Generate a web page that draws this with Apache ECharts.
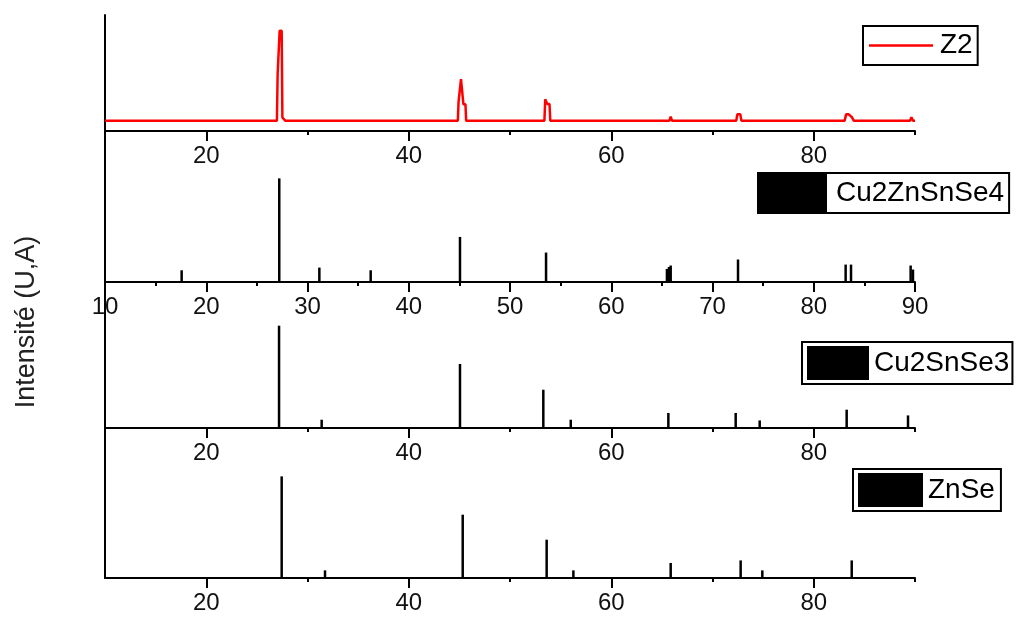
<!DOCTYPE html>
<html>
<head>
<meta charset="utf-8">
<script src="https://cdn.jsdelivr.net/npm/echarts@6/dist/echarts.min.js"></script>
<style>
  html, body { margin: 0; padding: 0; background: #fff; }
  #chart { width: 1020px; height: 619px; }
</style>
</head>
<body>
<div id="chart"></div>
<script>
// 2θ range and tick positions
const xRange = [10, 90];
const majorTicks = [20, 40, 60, 80];
const minorTicks = [30, 50, 70, 90];

// Z2 measured pattern: [2θ, intensity]
const z2Pattern = [
  [10, 10.3], [26.98, 10.3], [27.05, 56.8], [27.2, 56.8], [27.25, 100], [27.45, 100],
  [27.52, 13.5], [27.7, 13.5], [27.8, 10.3],
  [44.85, 10.3], [44.92, 29.2], [45.1, 29.2], [45.16, 51.8], [45.35, 51.8],
  [45.4, 26.6], [45.6, 26.6], [45.67, 10.3],
  [53.4, 10.3], [53.48, 31.6], [53.62, 31.6], [53.68, 26.9], [53.9, 26.9], [53.98, 10.3],
  [65.75, 10.3], [65.87, 14.3], [66.0, 10.3],
  [72.35, 10.3], [72.45, 16.6], [72.75, 16.6], [72.85, 10.3],
  [83.05, 10.3], [83.2, 16.6], [83.45, 16.6], [83.75, 14.0], [83.95, 10.3],
  [89.5, 10.3], [89.65, 13.7], [89.8, 10.3], [90, 10.3]
];

// Reference stick patterns: [2θ, relative intensity]
const cztsePeaks = [
  [17.57, 11.3], [27.21, 100], [31.17, 13.9], [36.24, 11.3], [45.06, 43.5],
  [53.56, 28.4], [65.5, 12.6], [65.7, 14.5], [65.87, 15.9], [72.52, 21.7],
  [83.15, 16.8], [83.68, 16.8], [89.57, 15.9], [89.8, 12.0]
];
const ctsePeaks = [
  [27.19, 100], [31.4, 8.1], [45.06, 62.6], [53.29, 37.4], [56.0, 8.1],
  [65.64, 14.7], [72.29, 14.7], [74.66, 7.4], [83.25, 17.9], [89.31, 12.3]
];
const znsePeaks = [
  [27.45, 100], [31.73, 7.5], [45.33, 62.3], [53.62, 37.7], [56.26, 7.5],
  [65.87, 14.8], [72.78, 17.3], [74.92, 7.5], [83.75, 17.3]
];

const seriesNames = ['Z2', 'Cu2ZnSnSe4', 'Cu2SnSe3', 'ZnSe'];
const yTitle = 'Intensité (U,A)';

const FONT = '"Liberation Sans", Arial, sans-serif';
const INK = '#000';

// stacked panels: [top, height] and y-axis ceilings
const panels = [
  { top: 15, height: 116, yMax: 115.6 },
  { top: 131, height: 151, yMax: 145.7 },
  { top: 282, height: 146, yMax: 142.7 },
  { top: 428, height: 150, yMax: 147.6 }
];

const grids = panels.map(p => ({ left: 105, right: 105, top: p.top, height: p.height }));

const labelStyle = { color: '#111', fontFamily: FONT, fontSize: 24, margin: 13 };

function mainAxis(gi, values) {
  return {
    type: 'value', gridIndex: gi, min: xRange[0], max: xRange[1], position: 'bottom',
    axisLine: { show: true, onZero: false, lineStyle: { color: INK, width: 2 } },
    axisTick: { show: true, length: 10, customValues: values, lineStyle: { color: INK, width: 2 } },
    axisLabel: Object.assign({ customValues: values }, labelStyle),
    splitLine: { show: false }
  };
}
function minorAxis(gi) {
  return {
    type: 'value', gridIndex: gi, min: xRange[0], max: xRange[1], position: 'bottom',
    axisLine: { show: false },
    axisTick: { show: true, length: 4, customValues: minorTicks, lineStyle: { color: INK, width: 2 } },
    axisLabel: { show: false },
    splitLine: { show: false }
  };
}

const xAxes = [
  mainAxis(0, majorTicks), minorAxis(0),
  {
    type: 'value', gridIndex: 1, min: 10, max: 90, interval: 10, position: 'bottom',
    axisLine: { show: true, onZero: false, lineStyle: { color: INK, width: 2 } },
    axisTick: { show: true, length: 10, lineStyle: { color: INK, width: 2 } },
    minorTick: { show: true, splitNumber: 2, length: 4, lineStyle: { color: INK, width: 2 } },
    axisLabel: Object.assign({}, labelStyle),
    splitLine: { show: false }, minorSplitLine: { show: false }
  },
  mainAxis(2, majorTicks), minorAxis(2),
  mainAxis(3, majorTicks), minorAxis(3)
];

const yAxes = panels.map((p, i) => ({
  type: 'value', gridIndex: i, min: 0, max: p.yMax,
  axisLine: { show: true, onZero: false, lineStyle: { color: INK, width: 2 } },
  axisTick: { show: false }, axisLabel: { show: false }, splitLine: { show: false }
}));

function stickSeries(name, data, xi, yi) {
  return {
    name, type: 'bar', xAxisIndex: xi, yAxisIndex: yi, data,
    barWidth: 2.5, itemStyle: { color: '#000' }, silent: true
  };
}

const legendText = { color: '#000', fontFamily: FONT, fontSize: 28, lineHeight: 33 };

const option = {
  animation: false,
  backgroundColor: '#fff',
  grid: grids,
  xAxis: xAxes,
  yAxis: yAxes,
  legend: [
    {
      data: [seriesNames[0]], left: 863, top: 26, icon: 'rect', itemWidth: 64, itemHeight: 2.5,
      padding: [3, 5, 3, 6], borderColor: INK, borderWidth: 2, selectedMode: false,
      textStyle: Object.assign({ padding: [0, 0, 0, 2] }, legendText)
    },
    {
      data: [seriesNames[1]], left: 758, top: 173, icon: 'rect', itemWidth: 68, itemHeight: 40,
      padding: [0, 5, 0, 1], borderColor: INK, borderWidth: 2, selectedMode: false,
      textStyle: Object.assign({ padding: [0, 0, 0, 4] }, legendText)
    },
    {
      data: [seriesNames[2]], left: 802, top: 342, icon: 'rect', itemWidth: 62, itemHeight: 34,
      padding: [4, 3, 4, 5], borderColor: INK, borderWidth: 2, selectedMode: false,
      textStyle: Object.assign({}, legendText)
    },
    {
      data: [seriesNames[3]], left: 853, top: 469, icon: 'rect', itemWidth: 65, itemHeight: 34,
      padding: [4, 6, 4, 5], borderColor: INK, borderWidth: 2, selectedMode: false,
      textStyle: Object.assign({}, legendText)
    }
  ],
  graphic: [{
    type: 'text', x: 27, y: 322, rotation: Math.PI / 2,
    style: {
      text: yTitle, fill: '#222', font: '27px ' + FONT,
      textAlign: 'center', textVerticalAlign: 'middle'
    }
  }],
  series: [
    {
      name: seriesNames[0], type: 'line', xAxisIndex: 0, yAxisIndex: 0, data: z2Pattern,
      showSymbol: false, symbol: 'none', lineStyle: { color: '#ff0000', width: 2.5 },
      itemStyle: { color: '#ff0000' }, silent: true
    },
    stickSeries(seriesNames[1], cztsePeaks, 2, 1),
    stickSeries(seriesNames[2], ctsePeaks, 3, 2),
    stickSeries(seriesNames[3], znsePeaks, 5, 3)
  ]
};

const chart = echarts.init(document.getElementById('chart'), null, { renderer: 'canvas' });
chart.setOption(option);
</script>
</body>
</html>
